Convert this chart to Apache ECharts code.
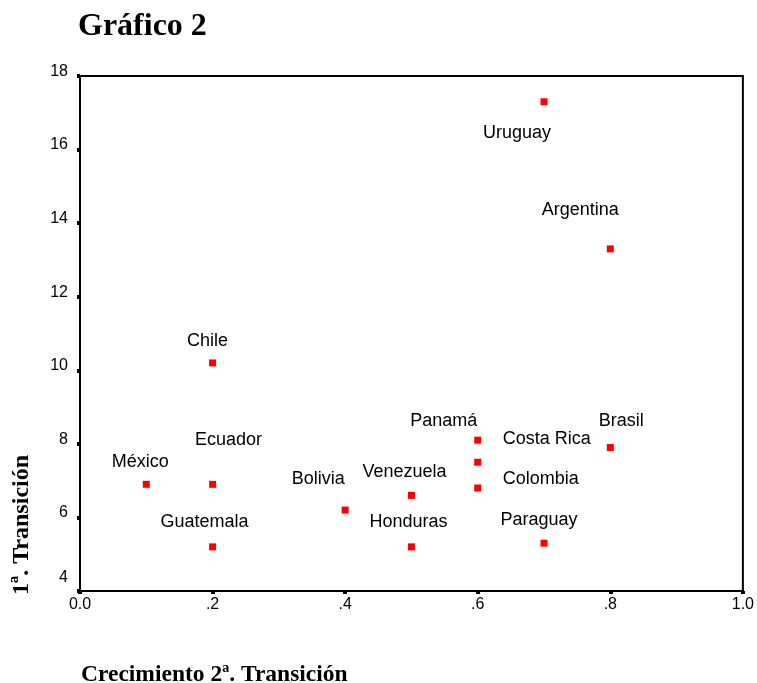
<!DOCTYPE html>
<html>
<head>
<meta charset="utf-8">
<script src="https://cdn.jsdelivr.net/npm/echarts@6/dist/echarts.min.js"></script>
<style>
html,body{margin:0;padding:0;background:#fff;}
#chart{width:757px;height:683px;}
</style>
</head>
<body>
<div id="chart"></div>
<script>
// ---- Data ----
const countries = ['Uruguay','Argentina','Chile','Brasil','Panamá','Costa Rica','Colombia','México','Ecuador','Venezuela','Bolivia','Guatemala','Honduras','Paraguay'];
const growth2 = [0.7, 0.8, 0.2, 0.8, 0.6, 0.6, 0.6, 0.1, 0.2, 0.5, 0.4, 0.2, 0.5, 0.7];
const trans1 = [17.3, 13.3, 10.2, 7.9, 8.1, 7.5, 6.8, 6.9, 6.9, 6.6, 6.2, 5.2, 5.2, 5.3];
const xTicks = [0, 0.2, 0.4, 0.6, 0.8, 1.0];
const yTicks = [4, 6, 8, 10, 12, 14, 16, 18];

// ---- Label placement (style) ----
const labelOffsets = {
  'Uruguay': [-27, 31], 'Argentina': [-30, -39], 'Chile': [-5, -22], 'Brasil': [11, -27],
  'Panamá': [-34, -19], 'Costa Rica': [69, -23], 'Colombia': [63, -9], 'México': [-6, -22],
  'Ecuador': [16, -44], 'Venezuela': [-7, -23], 'Bolivia': [-27, -31], 'Guatemala': [-8, -25],
  'Honduras': [-3, -25], 'Paraguay': [-5, -23]
};

const points = countries.map((name, i) => ({
  name: name,
  value: [growth2[i], trans1[i]],
  label: { offset: labelOffsets[name] || [0, -22] }
}));

const chart = echarts.init(document.getElementById('chart'), null, { renderer: 'canvas' });
const option = {
  animation: false,
  backgroundColor: '#fff',
  title: {
    text: 'Gráfico 2',
    left: 73,
    top: 6,
    textStyle: { fontFamily: 'Liberation Serif', fontWeight: 'bold', fontSize: 32, color: '#000' }
  },
  grid: {
    left: 80, right: 11, top: 76, bottom: 92,
    show: true, borderColor: '#000', borderWidth: 2, backgroundColor: 'transparent'
  },
  xAxis: {
    type: 'value', min: xTicks[0], max: xTicks[xTicks.length - 1], interval: 0.2,
    axisLine: { show: true, lineStyle: { color: '#000', width: 2 } },
    axisTick: { show: true, length: 3, lineStyle: { color: '#000', width: 4 } },
    splitLine: { show: false },
    axisLabel: {
      color: '#000', fontFamily: 'Liberation Sans', fontSize: 16, margin: 6,
      formatter: v => {
        const s = v.toFixed(1);
        return (v === 0 || v === 1) ? s : s.replace(/^0/, '');
      }
    }
  },
  yAxis: {
    type: 'value', min: yTicks[0], max: yTicks[yTicks.length - 1], interval: 2,
    axisLine: { show: true, lineStyle: { color: '#000', width: 2 } },
    axisTick: { show: true, length: 3, lineStyle: { color: '#000', width: 4 } },
    splitLine: { show: false },
    axisLabel: {
      color: '#000', fontFamily: 'Liberation Sans', fontSize: 16, margin: 12,
      formatter: v => v === yTicks[0] ? '{low|' + v + '}' : '{n|' + v + '}',
      rich: {
        n: { fontFamily: 'Liberation Sans', fontSize: 16, color: '#000', padding: [0, 0, 9, 0] },
        low: { fontFamily: 'Liberation Sans', fontSize: 16, color: '#000', padding: [0, 0, 26, 0] }
      }
    }
  },
  series: [{
    type: 'scatter',
    symbol: 'rect',
    symbolSize: 7,
    itemStyle: { color: '#ff0000', opacity: 1 },
    label: {
      show: true, position: 'inside', formatter: '{b}',
      color: '#000', fontFamily: 'Liberation Sans', fontSize: 18
    },
    emphasis: { disabled: true },
    data: points
  }],
  graphic: [
    {
      type: 'text', x: 22, y: 525, rotation: Math.PI / 2,
      style: {
        text: '1ª. Transición', align: 'center', verticalAlign: 'middle',
        font: 'bold 24px "Liberation Serif"', fill: '#000'
      }
    },
    {
      type: 'text', x: 81, y: 675,
      style: {
        text: 'Crecimiento 2ª. Transición', align: 'left', verticalAlign: 'middle',
        font: 'bold 23.5px "Liberation Serif"', fill: '#000'
      }
    }
  ]
};
chart.setOption(option);
</script>
</body>
</html>
